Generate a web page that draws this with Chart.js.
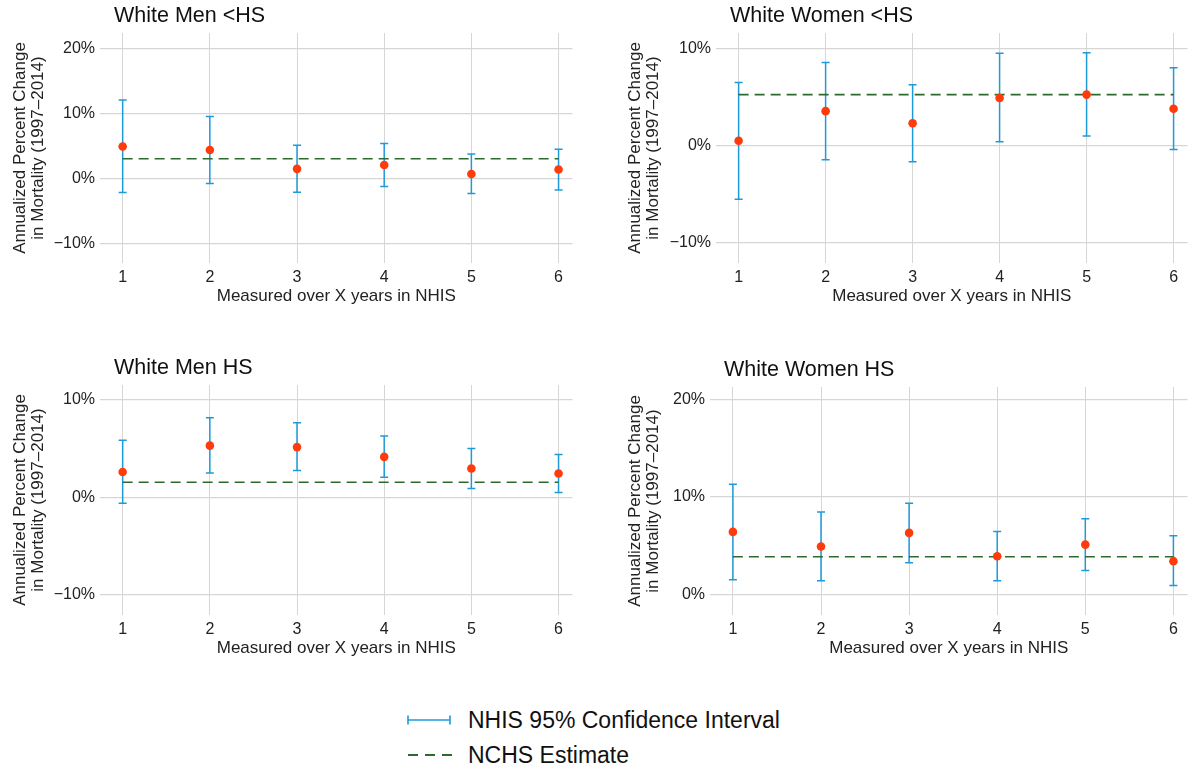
<!DOCTYPE html>
<html>
<head>
<meta charset="utf-8">
<script src="https://cdn.jsdelivr.net/npm/chart.js@4.4.0/dist/chart.umd.min.js"></script>
<style>
  body { margin: 0; background: #fff; width: 1193px; height: 771px; position: relative; overflow: hidden;
         font-family: "Liberation Sans", Arial, sans-serif; color: #111; }
  .panel { position: absolute; }
  .legend-row { position: absolute; left: 406px; display: flex; align-items: center; font-size: 23px; }
  .legend-row svg { margin-right: 16px; }
</style>
</head>
<body>
<div class="panel" style="left:0px;top:0px;"><canvas id="p1" width="578" height="310"></canvas></div>
<div class="panel" style="left:615px;top:0px;"><canvas id="p2" width="578" height="310"></canvas></div>
<div class="panel" style="left:0px;top:352px;"><canvas id="p3" width="578" height="310"></canvas></div>
<div class="panel" style="left:615px;top:354px;"><canvas id="p4" width="578" height="308"></canvas></div>

<div class="legend-row" style="top:705px;height:30px;">
  <svg width="46" height="12"><line x1="2" y1="6" x2="44" y2="6" stroke="#1f9ad8" stroke-width="1.6"/>
    <line x1="2" y1="1.5" x2="2" y2="10.5" stroke="#1f9ad8" stroke-width="1.6"/>
    <line x1="44" y1="1.5" x2="44" y2="10.5" stroke="#1f9ad8" stroke-width="1.6"/></svg>
  <span>NHIS 95% Confidence Interval</span>
</div>
<div class="legend-row" style="top:740px;height:30px;">
  <svg width="46" height="12"><line x1="2" y1="6" x2="46" y2="6" stroke="#2d6a2d" stroke-width="1.8" stroke-dasharray="10,7"/></svg>
  <span>NCHS Estimate</span>
</div>

<script>
// years of NHIS measurement window
const years = [1, 2, 3, 4, 5, 6];

// White Men <HS
const menLtHsEst  = [4.9, 4.35, 1.45, 2.05, 0.65, 1.35];
const menLtHsLow  = [-2.2, -0.8, -2.15, -1.25, -2.35, -1.8];
const menLtHsHigh = [12.05, 9.5, 5.1, 5.35, 3.75, 4.45];
const menLtHsNchs = 3.0;

// White Women <HS
const womenLtHsEst  = [0.5, 3.55, 2.3, 4.9, 5.25, 3.8];
const womenLtHsLow  = [-5.5, -1.45, -1.65, 0.4, 1.0, -0.4];
const womenLtHsHigh = [6.5, 8.55, 6.25, 9.5, 9.55, 8.0];
const womenLtHsNchs = 5.25;

// White Men HS
const menHsEst  = [2.6, 5.3, 5.15, 4.15, 2.95, 2.45];
const menHsLow  = [-0.6, 2.5, 2.75, 2.05, 0.9, 0.5];
const menHsHigh = [5.85, 8.15, 7.65, 6.3, 5.0, 4.4];
const menHsNchs = 1.55;

// White Women HS
const womenHsEst  = [6.4, 4.9, 6.3, 3.9, 5.1, 3.4];
const womenHsLow  = [1.5, 1.4, 3.25, 1.4, 2.45, 0.9];
const womenHsHigh = [11.3, 8.45, 9.35, 6.45, 7.75, 6.0];
const womenHsNchs = 3.85;

// y tick labels per panel
const ticksMenLtHs   = [-10, 0, 10, 20];
const ticksWomenLtHs = [-10, 0, 10];
const ticksMenHs     = [-10, 0, 10];
const ticksWomenHs   = [0, 10, 20];

const FONT = '"Liberation Sans", Arial, sans-serif';
const BLUE = '#1f9ad8';
const RED = '#ff3b0c';
const GREEN = '#2d6a2d';
const GRID = '#d6d6d6';

const panelTitle = {
  id: 'panelTitle',
  afterDraw(chart, args, opts) {
    const { ctx, chartArea } = chart;
    ctx.save();
    ctx.font = '21.5px ' + FONT;
    ctx.fillStyle = '#111';
    ctx.textBaseline = 'middle';
    ctx.fillText(opts.text, chartArea.left + 14, 16);
    ctx.restore();
  }
};

function pct(v) {
  return (v < 0 ? '\u2212' + Math.abs(v) : v) + '%';
}

function makePanel(id, title, est, low, high, nchs, yTicks, yMin, yMax, axisW) {
  new Chart(document.getElementById(id), {
    type: 'scatter',
    data: {
      datasets: [
        {
          data: years.map((x, i) => ({ x, y: est[i] })),
          backgroundColor: RED, borderWidth: 0, pointRadius: 4.3
        },
        {
          data: [{ x: years[0], y: nchs }, { x: years[years.length - 1], y: nchs }],
          showLine: true, borderColor: GREEN, borderWidth: 1.6, borderDash: [10, 6], pointRadius: 0
        },
        {
          data: years.flatMap((x, i) => [{ x, y: low[i] }, { x, y: high[i] }, { x, y: null }]),
          showLine: true, spanGaps: false, borderColor: BLUE, borderWidth: 1.5, pointRadius: 0
        },
        {
          data: years.flatMap((x, i) => [{ x, y: low[i] }, { x, y: high[i] }]),
          pointStyle: 'line', pointRadius: 4, borderColor: BLUE, borderWidth: 1.5
        }
      ]
    },
    options: {
      responsive: false,
      animation: false,
      layout: { padding: { top: 33, left: 0, right: 0, bottom: 0 } },
      scales: {
        x: {
          type: 'linear', min: 0.74, max: 6.16,
          afterBuildTicks: s => { s.ticks = years.map(v => ({ value: v })); },
          afterFit: s => { s.height = 47; },
          grid: { color: GRID, lineWidth: 1, drawTicks: false },
          border: { display: false },
          ticks: { padding: 5, color: '#222', font: { family: FONT, size: 16 } },
          title: { display: true, text: 'Measured over X years in NHIS', color: '#222',
                   font: { family: FONT, size: 17 }, padding: { top: 0, bottom: 3 } }
        },
        y: {
          min: yMin, max: yMax,
          afterBuildTicks: s => { s.ticks = yTicks.map(v => ({ value: v })); },
          afterFit: s => { s.width = axisW; },
          grid: { color: GRID, lineWidth: 1.2, drawTicks: false },
          border: { display: false },
          ticks: { padding: 5, color: '#222', font: { family: FONT, size: 16 }, callback: v => pct(v) },
          title: { display: true, text: ['Annualized Percent Change', 'in Mortality (1997\u20132014)'], color: '#222',
                   font: { family: FONT, size: 17, lineHeight: 1.06 }, padding: { top: 11, bottom: 0 } }
        }
      },
      plugins: {
        legend: { display: false },
        tooltip: { enabled: false },
        panelTitle: { text: title }
      }
    },
    plugins: [panelTitle]
  });
}

makePanel('p1', 'White Men <HS', menLtHsEst, menLtHsLow, menLtHsHigh, menLtHsNchs, ticksMenLtHs, -13.03, 22.35, 100);
makePanel('p2', 'White Women <HS', womenLtHsEst, womenLtHsLow, womenLtHsHigh, womenLtHsNchs, ticksWomenLtHs, -12.06, 11.58, 101);
makePanel('p3', 'White Men HS', menHsEst, menHsLow, menHsHigh, menHsNchs, ticksMenHs, -12.07, 11.52, 100);
makePanel('p4', 'White Women HS', womenHsEst, womenHsLow, womenHsHigh, womenHsNchs, ticksWomenHs, -2.12, 21.26, 95);
</script>
</body>
</html>
